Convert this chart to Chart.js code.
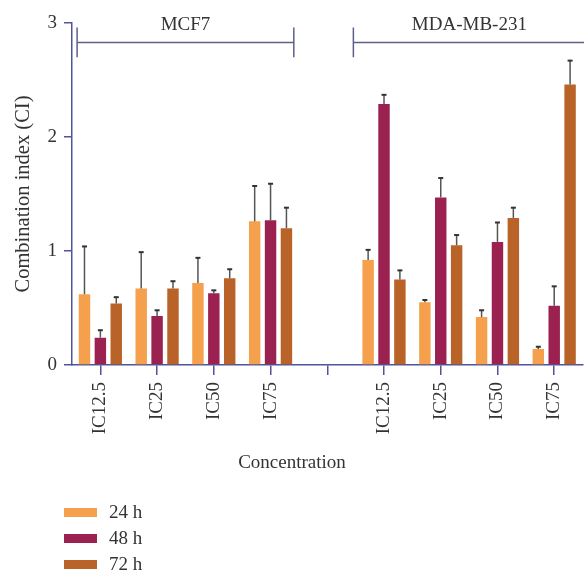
<!DOCTYPE html>
<html>
<head>
<meta charset="utf-8">
<script src="https://cdn.jsdelivr.net/npm/chart.js@4"></script>
<style>
    body { margin: 0; background: #fff; }
    #wrap { position: relative; width: 584px; height: 571px; }
    #legend { position: absolute; left: 64px; top: 499px; font-family: "Liberation Serif", serif; font-size: 19px; color: #333; }
    .item { height: 26px; display: flex; align-items: center; }
    .sw { width: 33px; height: 9px; margin-right: 12px; }
</style>
</head>
<body>
<div id="wrap">
    <canvas id="chart" width="584" height="571"></canvas>
    <div id="legend"></div>
</div>
<script>
// Categories (empty slot separates the two cell lines)
const categories = ['IC12.5', 'IC25', 'IC50', 'IC75', '', 'IC12.5', 'IC25', 'IC50', 'IC75'];
const groups = ['MCF7', 'MDA-MB-231'];

// Mean combination index
const ci24 = [0.62, 0.67, 0.72, 1.26, null, 0.92, 0.55, 0.42, 0.14];
const ci48 = [0.24, 0.43, 0.63, 1.27, null, 2.29, 1.47, 1.08, 0.52];
const ci72 = [0.54, 0.67, 0.76, 1.20, null, 0.75, 1.05, 1.29, 2.46];

// Upper error (SD)
const err24 = [0.42, 0.32, 0.22, 0.31, null, 0.09, 0.02, 0.06, 0.02];
const err48 = [0.065, 0.05, 0.025, 0.32, null, 0.08, 0.17, 0.17, 0.17];
const err72 = [0.055, 0.065, 0.08, 0.18, null, 0.08, 0.09, 0.09, 0.21];

const yTicks = [0, 1, 2, 3];

const axisColor = '#50549a';
const textColor = '#333';
const serif = '"Liberation Serif", serif';

// Draw the upward error bars
const errorBars = {
    id: 'errorBars',
    afterDatasetsDraw(chart) {
        const ctx = chart.ctx;
        const y = chart.scales.y;
        chart.data.datasets.forEach((ds, i) => {
            chart.getDatasetMeta(i).data.forEach((bar, j) => {
                const v = ds.data[j];
                if (v == null) return;
                const top = y.getPixelForValue(v + ds.errors[j]);
                ctx.save();
                ctx.strokeStyle = '#555';
                ctx.lineWidth = 1.5;
                ctx.beginPath();
                ctx.moveTo(bar.x, bar.y);
                ctx.lineTo(bar.x, top);
                ctx.stroke();
                ctx.strokeStyle = '#333';
                ctx.lineWidth = 2;
                ctx.beginPath();
                ctx.moveTo(bar.x - 2.5, top);
                ctx.lineTo(bar.x + 2.5, top);
                ctx.stroke();
                ctx.restore();
            });
        });
    }
};

// Group brackets and the x axis title
const annotations = {
    id: 'annotations',
    afterDraw(chart) {
        const ctx = chart.ctx;
        const x = chart.scales.x, y = chart.scales.y;
        const spans = [[-0.41, 3.41], [4.46, 8.55]];
        ctx.save();
        ctx.strokeStyle = '#5e6088';
        ctx.lineWidth = 1.5;
        ctx.fillStyle = textColor;
        ctx.font = '19px ' + serif;
        ctx.textAlign = 'center';
        ctx.textBaseline = 'middle';
        spans.forEach((s, i) => {
            const x1 = x.getPixelForValue(s[0]);
            const x2 = x.getPixelForValue(s[1]);
            const yl = y.getPixelForValue(2.83);
            const yt = y.getPixelForValue(2.96);
            const yb = y.getPixelForValue(2.70);
            ctx.beginPath();
            ctx.moveTo(x1, yl); ctx.lineTo(x2, yl);
            ctx.moveTo(x1, yt); ctx.lineTo(x1, yb);
            ctx.moveTo(x2, yt); ctx.lineTo(x2, yb);
            ctx.stroke();
            ctx.fillText(groups[i], x.getPixelForValue((s[0] + s[1]) / 2), y.getPixelForValue(2.98));
        });
        ctx.fillText('Concentration', chart.width / 2, 463);
        ctx.restore();
    }
};

const makeSet = (label, data, errors, color) => ({
    label, data, errors,
    backgroundColor: color,
    borderWidth: 0,
    categoryPercentage: 0.84,
    barPercentage: 0.72
});

const chart = new Chart(document.getElementById('chart'), {
    type: 'bar',
    data: {
        labels: categories,
        datasets: [
            makeSet('24 h', ci24, err24, '#f5a04c'),
            makeSet('48 h', ci48, err48, '#9b2150'),
            makeSet('72 h', ci72, err72, '#ba6329')
        ]
    },
    options: {
        responsive: false,
        animation: false,
        layout: { padding: { top: 23, right: 0, left: 0, bottom: 0 } },
        plugins: { legend: { display: false }, tooltip: { enabled: false } },
        scales: {
            x: {
                afterFit: s => { s.height = 206; },
                grid: { offset: false, drawOnChartArea: false, color: axisColor, tickLength: 10, lineWidth: 1.5 },
                border: { color: axisColor, width: 1.5 },
                ticks: { color: textColor, font: { family: serif, size: 19 }, minRotation: 90, maxRotation: 90, padding: 7, autoSkip: false }
            },
            y: {
                min: 0, max: 3,
                afterFit: s => { s.width = 72; },
                afterBuildTicks: s => { s.ticks = yTicks.map(v => ({ value: v })); },
                grid: { drawOnChartArea: false, color: axisColor, tickLength: 8, lineWidth: 1.5 },
                border: { color: axisColor, width: 1.5 },
                ticks: { color: textColor, font: { family: serif, size: 19 }, padding: 7 },
                title: { display: true, text: 'Combination index (CI)', color: textColor, font: { family: serif, size: 20.5 }, padding: { top: 11, bottom: 0 } }
            }
        }
    },
    plugins: [errorBars, annotations]
});

// HTML legend built from the datasets
const legend = document.getElementById('legend');
chart.data.datasets.forEach(ds => {
    const item = document.createElement('div');
    item.className = 'item';
    item.innerHTML = `<span class="sw" style="background:${ds.backgroundColor}"></span><span>${ds.label}</span>`;
    legend.appendChild(item);
});
</script>
</body>
</html>
